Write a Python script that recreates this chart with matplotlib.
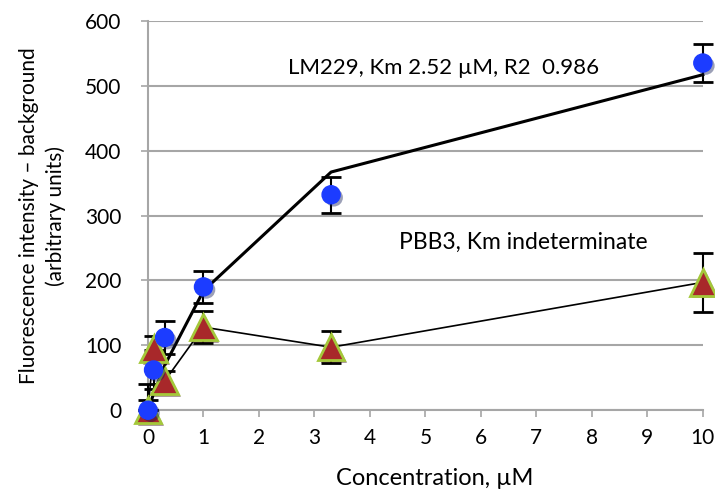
import matplotlib
matplotlib.use("Agg")
import matplotlib.pyplot as plt
import matplotlib.patheffects as pe

plt.rcParams['font.family'] = ['Lato', 'DejaVu Sans']

conc = [0, 0.1, 0.3, 1, 3.3, 10]
lm229 = [0, 62, 112, 190, 332, 535]
lm229_err_lo = [0, 30, 25, 25, 28, 30]
lm229_err_hi = [40, 30, 25, 25, 28, 30]
lm229_fit = [0, 25, 69, 184, 367, 517]
pbb3 = [0, 95, 45, 128, 97, 197]
pbb3_err_lo = [0, 20, 15, 25, 25, 45]
pbb3_err_hi = [15, 20, 15, 25, 25, 45]

fig = plt.figure(figsize=(7.15, 4.96), dpi=100)
ax = fig.add_axes([0.207, 0.173, 0.776, 0.785])

ax.set_xlim(0, 10)
ax.set_ylim(0, 600)
ax.set_yticks(range(0, 601, 100))
ax.set_xticks(range(0, 11))
ax.grid(axis='y', color='#a6a6a6', linewidth=1.5, zorder=0)
ax.set_axisbelow(True)
for s in ['top', 'right']:
    ax.spines[s].set_visible(False)
for s in ['left', 'bottom']:
    ax.spines[s].set_color('#a6a6a6')
    ax.spines[s].set_linewidth(1.5)
ax.tick_params(axis='both', colors='#a6a6a6', labelcolor='black', labelsize=15, length=5, width=1.2)
ax.tick_params(axis='x', pad=8)
ax.tick_params(axis='y', pad=14)

# fit line and connecting line
ax.plot(conc, lm229_fit, color='black', linewidth=2.2, zorder=3, clip_on=False)
ax.plot(conc, pbb3, color='black', linewidth=1.2, zorder=3, clip_on=False)

# error bars
ax.errorbar(conc, lm229, yerr=[lm229_err_lo, lm229_err_hi], fmt='none', ecolor='black', elinewidth=1.5,
            capsize=7, capthick=2, zorder=4, clip_on=False)
ax.errorbar(conc, pbb3, yerr=[pbb3_err_lo, pbb3_err_hi], fmt='none', ecolor='black', elinewidth=1.5,
            capsize=7, capthick=2, zorder=4, clip_on=False)

shadow = [pe.SimplePatchShadow(offset=(2, -2), alpha=0.4), pe.Normal()]
ax.plot(conc, pbb3, linestyle='none', marker='^', markersize=19, markerfacecolor='#a8282a',
        markeredgecolor='#a4c83a', markeredgewidth=2, zorder=5, clip_on=False, path_effects=shadow)
ax.plot(conc, lm229, linestyle='none', marker='o', markersize=13, markerfacecolor='#1c3cff',
        markeredgecolor='#1c3cff', zorder=6, clip_on=False, path_effects=shadow)

ax.text(5.32, 528, 'LM229, Km 2.52 µM, R2  0.986', fontsize=16, ha='center', va='center')
ax.text(6.77, 258, 'PBB3, Km indeterminate', fontsize=16.5, ha='center', va='center')

ax.set_xlabel('Concentration, µM', fontsize=17, labelpad=14)
ax.xaxis.label.set_x(0.516)
ax.set_ylabel('Fluorescence intensity – background\n(arbitrary units)', fontsize=15, labelpad=14,
              linespacing=1.35)

fig.savefig('out.png', dpi=100)
